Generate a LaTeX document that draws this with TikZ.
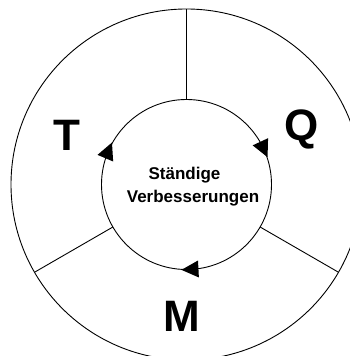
\documentclass[tikz,border=0pt]{standalone}
\usepackage{fontspec}
\setmainfont{Liberation Sans}
\usetikzlibrary{calc}
\begin{document}
\begin{tikzpicture}[x=1pt,y=1pt,
  ring/.style={draw=black,line width=0.9pt},
  sep/.style={draw=black,line width=0.9pt},
  head/.style={fill=black},
  big/.style={font=\bfseries\fontsize{44}{50}\selectfont,inner sep=0pt,anchor=base},
  mid/.style={font=\bfseries\fontsize{17}{20}\selectfont,inner sep=0pt,anchor=base}]
\useasboundingbox (0,0) rectangle (350,356);
\clip (0,0) rectangle (350,356);
\fill[white] (0,0) rectangle (350,356);
\coordinate (C) at (186.5,171.5);
% circles
\draw[ring] (C) circle[radius=175.5];
\draw[ring] (C) circle[radius=85];
% separators
\foreach \a in {90,-30,210}{
  \draw[sep] ($(C)+(\a:85)$) -- ($(C)+(\a:175.5)$);
}
% arrowheads (clockwise)
\foreach \a in {157,25,-87}{
  \begin{scope}[shift={($(C)+(\a:85)$)},rotate=\a-90]
    \fill[head] (9.5,0) -- (-7.5,8.5) -- (-7.5,-8.5) -- cycle;
  \end{scope}
}
% labels
\node[mid] (s1) at (184.5,176) {Ständige};
\node[mid] (s2) at (193,153.3) {Verbesserungen};
\node[big] (T) at (66.7,205) {T};
\node[big] (Q) at (302,215) {Q};
\node[big] (M) at (182.3,24) {M};
\end{tikzpicture}
\end{document}
